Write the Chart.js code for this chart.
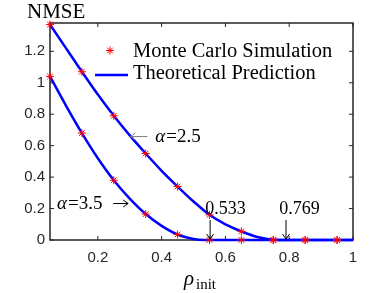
<!DOCTYPE html>
<html lang="en">

<head>
  <meta charset="UTF-8">
  <script src="https://cdn.jsdelivr.net/npm/chart.js"></script>
  <title>NMSE vs rho_init</title>
  <style>
    html, body { margin: 0; padding: 0; background: #fff; }
  </style>
</head>

<body>
  <canvas id="chart" width="390" height="293"></canvas>

<script>
  // Monte Carlo points
  const xMC = [0.05, 0.15, 0.25, 0.35, 0.45, 0.55, 0.65, 0.75, 0.85, 0.95]
  const mc25 = [1.37, 1.07, 0.79, 0.55, 0.34, 0.16, 0.055, 0, 0, 0]
  const mc35 = [1.04, 0.68, 0.38, 0.165, 0.035, 0, 0, 0, 0, 0]

  // theoretical curves
  const xTh25 = [0.05, 0.1, 0.15, 0.2, 0.25, 0.3, 0.35, 0.4, 0.45, 0.5, 0.55, 0.6, 0.65, 0.7, 0.769, 0.85, 1]
  const th25 = [1.37, 1.22, 1.07, 0.925, 0.79, 0.665, 0.55, 0.44, 0.34, 0.245, 0.16, 0.1, 0.055, 0.019, 0, 0, 0]
  const xTh35 = [0.05, 0.1, 0.15, 0.2, 0.25, 0.3, 0.35, 0.4, 0.45, 0.5, 0.533, 0.6, 0.8, 1]
  const th35 = [1.04, 0.855, 0.68, 0.52, 0.38, 0.263, 0.165, 0.09, 0.035, 0.006, 0, 0, 0, 0]

  const xTicks = [0.2, 0.4, 0.6, 0.8, 1]
  const yTicks = [0, 0.2, 0.4, 0.6, 0.8, 1, 1.2]

  const pts = (xs, ys) => xs.map((v, i) => ({ x: v, y: ys[i] }))

  const axisColor = '#262626'
  const serif = '"Liberation Serif", "Times New Roman", serif'

  function downArrow(ctx, x, y0, y1) {
    ctx.beginPath()
    ctx.moveTo(x, y0); ctx.lineTo(x, y1)
    ctx.moveTo(x - 3.5, y1 - 5); ctx.lineTo(x, y1); ctx.lineTo(x + 3.5, y1 - 5)
    ctx.stroke()
  }

  function hArrow(ctx, x0, x1, y) {
    // arrow pointing from x0 to x1
    const d = x1 > x0 ? -1 : 1
    ctx.beginPath()
    ctx.moveTo(x0, y); ctx.lineTo(x1, y)
    ctx.moveTo(x1 + d * 5, y - 3.5); ctx.lineTo(x1, y); ctx.lineTo(x1 + d * 5, y + 3.5)
    ctx.stroke()
  }

  const decor = {
    id: 'decor',
    beforeDatasetsDraw(chart) {
      const { ctx, chartArea: a, scales: { x, y } } = chart
      ctx.save()
      ctx.strokeStyle = axisColor
      ctx.lineWidth = 1.5
      ctx.strokeRect(a.left, a.top, a.right - a.left, a.bottom - a.top)
      ctx.lineWidth = 1
      ctx.beginPath()
      xTicks.forEach(v => {
        const p = x.getPixelForValue(v)
        ctx.moveTo(p, a.bottom); ctx.lineTo(p, a.bottom - 4)
        ctx.moveTo(p, a.top); ctx.lineTo(p, a.top + 4)
      })
      yTicks.forEach(v => {
        const p = y.getPixelForValue(v)
        ctx.moveTo(a.left, p); ctx.lineTo(a.left + 4, p)
        ctx.moveTo(a.right, p); ctx.lineTo(a.right - 4, p)
      })
      ctx.stroke()
      ctx.restore()
    },
    afterDraw(chart) {
      const { ctx, scales: { x, y } } = chart
      const px = v => x.getPixelForValue(v)
      const py = v => y.getPixelForValue(v)
      ctx.save()
      ctx.fillStyle = '#000'
      ctx.textBaseline = 'alphabetic'

      // axis titles
      ctx.font = '21px ' + serif
      ctx.fillText('NMSE', 27, 18)
      ctx.font = 'italic 21px ' + serif
      ctx.fillText('ρ', 184, 285)
      ctx.font = '15px ' + serif
      ctx.fillText('init', 196, 289)

      // legend
      ctx.strokeStyle = '#ff0000'
      ctx.lineWidth = 1
      ctx.beginPath()
      const sx = 110, sy = 50.5, r = 4
      ctx.moveTo(sx - r, sy); ctx.lineTo(sx + r, sy)
      ctx.moveTo(sx, sy - r); ctx.lineTo(sx, sy + r)
      const q = r * Math.SQRT1_2
      ctx.moveTo(sx - q, sy - q); ctx.lineTo(sx + q, sy + q)
      ctx.moveTo(sx - q, sy + q); ctx.lineTo(sx + q, sy - q)
      ctx.stroke()
      ctx.strokeStyle = '#0000ff'
      ctx.lineWidth = 2.5
      ctx.beginPath()
      ctx.moveTo(95, 75); ctx.lineTo(128, 75)
      ctx.stroke()
      ctx.font = '20.5px ' + serif
      ctx.fillText('Monte Carlo Simulation', 133, 57)
      ctx.fillText('Theoretical Prediction', 133, 79)

      // threshold labels
      ctx.strokeStyle = '#000'
      ctx.lineWidth = 1
      ctx.font = '18px ' + serif
      ctx.fillText('0.533', px(0.537), py(0.166))
      ctx.fillText('0.769', px(0.769), py(0.166))
      downArrow(ctx, px(0.552), py(0.127), py(0.006))
      downArrow(ctx, px(0.79), py(0.127), py(0.006))

      // alpha labels
      ctx.font = 'italic 19px ' + serif
      ctx.fillText('α', px(0.38), py(0.624))
      let w = ctx.measureText('α').width
      ctx.font = '19px ' + serif
      ctx.fillText('=2.5', px(0.38) + w + 1, py(0.624))
      ctx.strokeStyle = '#7f7f7f'
      hArrow(ctx, px(0.355), px(0.302), py(0.658))

      ctx.font = 'italic 19px ' + serif
      ctx.fillText('α', px(0.072), py(0.197))
      w = ctx.measureText('α').width
      ctx.font = '19px ' + serif
      ctx.fillText('=3.5', px(0.072) + w + 1, py(0.197))
      ctx.strokeStyle = '#000'
      hArrow(ctx, px(0.248), px(0.295), py(0.232))
      ctx.restore()
    }
  }

  const star = color => ({
    type: 'scatter',
    showLine: false,
    pointStyle: 'star',
    pointRadius: 4,
    pointBorderColor: color,
    pointBorderWidth: 1,
    clip: false
  })

  const line = color => ({
    type: 'line',
    borderColor: color,
    borderWidth: 2.5,
    pointRadius: 0,
    cubicInterpolationMode: 'monotone',
    fill: false,
    clip: false
  })

  new Chart(document.getElementById('chart'), {
    data: {
      datasets: [
        { ...star('#ff0000'), label: 'Monte Carlo Simulation', data: pts(xMC, mc25) },
        { ...star('#ff0000'), label: 'Monte Carlo Simulation', data: pts(xMC, mc35) },
        { ...line('#0000ff'), label: 'Theoretical Prediction', data: pts(xTh25, th25) },
        { ...line('#0000ff'), label: 'Theoretical Prediction', data: pts(xTh35, th35) }
      ]
    },
    options: {
      responsive: false,
      animation: false,
      devicePixelRatio: 1,
      layout: { padding: { left: 0, top: 23, right: 37, bottom: 0 } },
      plugins: { legend: { display: false }, tooltip: { enabled: false } },
      scales: {
        x: {
          type: 'linear',
          min: 0.05,
          max: 1,
          grid: { display: false, drawTicks: false },
          border: { display: false },
          afterBuildTicks: s => { s.ticks = xTicks.map(v => ({ value: v })) },
          afterFit: s => { s.height = 53 },
          ticks: {
            padding: 9,
            color: axisColor,
            font: { family: '"Liberation Sans", Arial, sans-serif', size: 15 },
            callback: v => String(+v.toFixed(2))
          }
        },
        y: {
          type: 'linear',
          min: 0,
          max: 1.38,
          grid: { display: false, drawTicks: false },
          border: { display: false },
          afterBuildTicks: s => { s.ticks = yTicks.map(v => ({ value: v })) },
          afterFit: s => { s.width = 50 },
          ticks: {
            padding: 5,
            color: axisColor,
            font: { family: '"Liberation Sans", Arial, sans-serif', size: 15 },
            callback: v => String(+v.toFixed(2))
          }
        }
      }
    },
    plugins: [decor]
  })
</script>
</body>

</html>
